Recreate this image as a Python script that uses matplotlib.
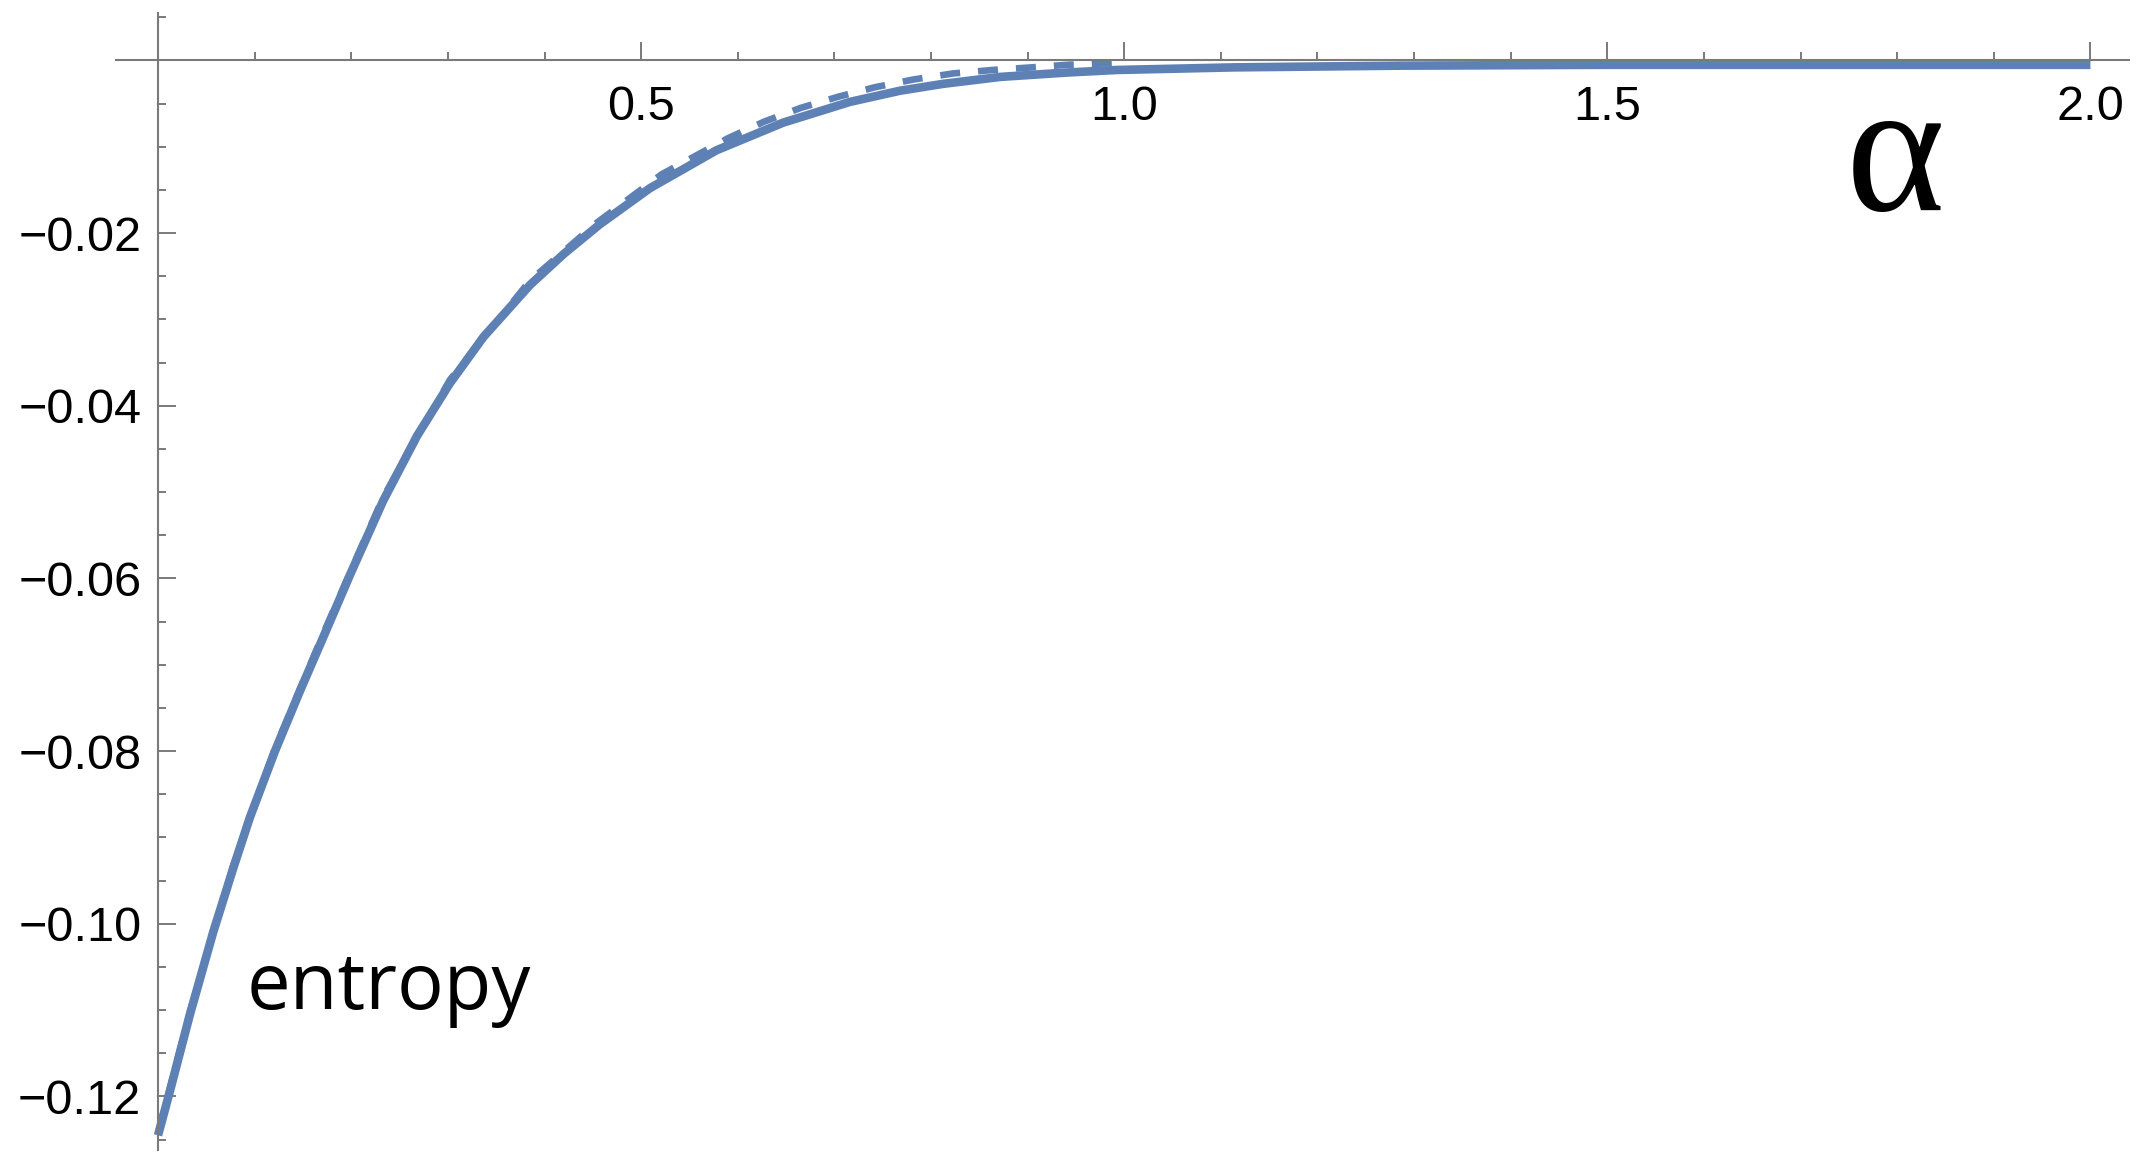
import matplotlib
matplotlib.use('Agg')
import matplotlib.pyplot as plt

plt.rcParams['font.family'] = ['Liberation Sans', 'DejaVu Sans']

# solid curve
alpha_solid = [0.000, 0.006, 0.012, 0.033, 0.057, 0.078, 0.095, 0.121, 0.147, 0.171, 0.199,
               0.233, 0.268, 0.302, 0.337, 0.385, 0.420, 0.457, 0.509, 0.578, 0.647,
               0.716, 0.768, 0.813, 0.872, 0.940, 0.992, 1.113, 1.286, 1.500, 2.000]
entropy_solid = [-0.1245, -0.1220, -0.1195, -0.1105, -0.1010, -0.0935, -0.0877, -0.0800,
                 -0.0730, -0.0668, -0.0595, -0.0510, -0.0435, -0.0374, -0.0320, -0.0260,
                 -0.0224, -0.0190, -0.0148, -0.0104, -0.0072, -0.0048, -0.0035, -0.0027,
                 -0.0019, -0.0014, -0.0011, -0.0008, -0.0006, -0.0005, -0.0005]

# dashed curve
alpha_dash = [0.000, 0.033, 0.078, 0.121, 0.171, 0.233, 0.302, 0.385, 0.454, 0.521,
              0.590, 0.627, 0.665, 0.704, 0.742, 0.782, 0.823, 0.864, 0.904, 0.941, 0.990]
entropy_dash = [-0.1243, -0.1102, -0.0932, -0.0797, -0.0664, -0.0506, -0.0370, -0.0255,
                -0.0188, -0.0132, -0.0090, -0.0071, -0.0055, -0.0042, -0.0031, -0.0022,
                -0.0015, -0.0011, -0.0008, -0.0005, -0.0003]

# ticks
x_major = [0.5, 1.0, 1.5, 2.0]
x_labels = ['0.5', '1.0', '1.5', '2.0']
x_minor = [0.1, 0.2, 0.3, 0.4, 0.6, 0.7, 0.8, 0.9, 1.1, 1.2, 1.3, 1.4, 1.6, 1.7, 1.8, 1.9]
y_major = [-0.12, -0.10, -0.08, -0.06, -0.04, -0.02]
y_labels = ['\u22120.12', '\u22120.10', '\u22120.08', '\u22120.06', '\u22120.04', '\u22120.02']
y_minor = [-0.125, -0.115, -0.11, -0.105, -0.095, -0.09, -0.085, -0.075, -0.07, -0.065,
           -0.055, -0.05, -0.045, -0.035, -0.03, -0.025, -0.015, -0.01, -0.005, 0.005]

blue = '#5E81B5'
gray = '#7a7a7a'

fig = plt.figure(figsize=(21.45, 11.64), dpi=100)
ax = fig.add_axes([0.05408, 0.01203, 0.9385, 0.9768])

ax.plot(alpha_solid, entropy_solid, color=blue, lw=6.2, solid_capstyle='butt',
        solid_joinstyle='round', zorder=3)
ax.plot(alpha_dash, entropy_dash, color=blue, lw=4.8, dashes=(3.0, 2.7),
        dash_capstyle='butt', zorder=3)

ax.set_xlim(-0.0435, 2.04)
ax.set_ylim(-0.1262, 0.0055)

# axes through the origin, Mathematica style
ax.spines['left'].set_position(('data', 0))
ax.spines['bottom'].set_position(('data', 0))
ax.spines['top'].set_visible(False)
ax.spines['right'].set_visible(False)
for s in ['left', 'bottom']:
    ax.spines[s].set_color(gray)
    ax.spines[s].set_linewidth(1.5)
    ax.spines[s].set_zorder(4)

ax.set_xticks(x_major)
ax.set_xticklabels(x_labels)
ax.set_xticks(x_minor, minor=True)
ax.set_yticks(y_major)
ax.set_yticklabels(y_labels)
ax.set_yticks(y_minor, minor=True)

ax.tick_params(axis='x', which='major', direction='in', length=13, width=1.4, color=gray,
               pad=18, labelsize=35)
ax.tick_params(axis='y', which='major', direction='in', length=13, width=1.4, color=gray,
               pad=12, labelsize=35)
ax.tick_params(which='minor', direction='in', length=6, width=1.4, color=gray)

fig.text(0.8834, 0.8196, '\u03b1', fontsize=136, family='Liberation Serif',
         ha='center', va='baseline')
fig.text(0.1152, 0.1332, 'entropy', fontsize=56, family=['Open Sans', 'DejaVu Sans'],
         ha='left', va='baseline')

fig.savefig('out.png', dpi=100, facecolor='white')
